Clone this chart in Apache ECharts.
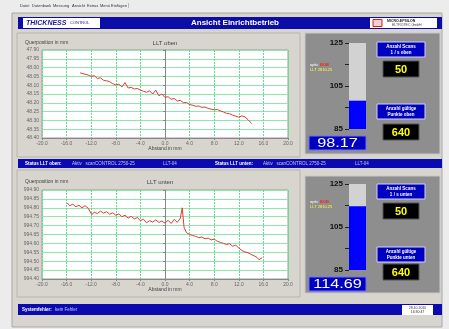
<!DOCTYPE html>
<html>
<head>
<meta charset="utf-8">
<script src="https://cdn.jsdelivr.net/npm/echarts@6/dist/echarts.min.js"></script>
<style>
  html, body { margin: 0; padding: 0; background: #ececec; }
  #main { width: 449px; height: 329px; }
</style>
</head>
<body>
<div id="main"></div>
<script>
// profile LLT oben (x in mm, thickness in mm)
const xTop = [-13.8, -13.5, -13.0, -12.5, -12.0, -11.5, -11.0, -10.5, -10.0, -9.5, -9.0, -8.5, -8.0, -7.5,
  -7.0, -6.5, -6.0, -5.5, -5.0, -4.5, -4.0, -3.5, -3.0, -2.5, -2.0, -1.5, -1.0, -0.5, 0.0, 0.5, 1.0, 1.5,
  2.0, 2.5, 3.0, 3.5, 4.0, 4.5, 5.0, 5.5, 6.0, 6.5, 7.0, 7.5, 8.0, 8.5, 9.0, 9.5, 10.0, 10.5, 11.0, 11.5,
  12.0, 12.5, 13.0, 13.5, 14.1];
const yTop = [48.030, 48.025, 48.038, 48.042, 48.050, 48.046, 48.062, 48.058, 48.072, 48.075, 48.080, 48.092,
  48.098, 48.094, 48.110, 48.085, 48.116, 48.112, 48.122, 48.118, 48.128, 48.135, 48.140, 48.132, 48.150,
  48.128, 48.160, 48.150, 48.170, 48.165, 48.180, 48.176, 48.190, 48.186, 48.200, 48.198, 48.210, 48.214,
  48.220, 48.218, 48.226, 48.224, 48.232, 48.236, 48.240, 48.238, 48.246, 48.252, 48.260, 48.262, 48.270,
  48.276, 48.282, 48.274, 48.280, 48.296, 48.318];

// profile LLT unten
const xBottom = [-15.9, -15.5, -15.0, -14.5, -14.0, -13.5, -13.0, -12.5, -12.2, -11.9, -11.5, -11.0, -10.5,
  -10.0, -9.5, -9.0, -8.5, -8.0, -7.5, -7.0, -6.5, -6.0, -5.5, -5.0, -4.5, -4.0, -3.5, -3.0, -2.5, -2.0,
  -1.5, -1.0, -0.5, 0.0, 0.5, 1.0, 1.5, 2.0, 2.5, 2.8, 3.1, 3.5, 4.0, 4.5, 5.0, 5.5, 6.0, 6.5, 7.0, 7.5,
  8.0, 8.5, 9.0, 9.5, 10.0, 10.5, 11.0, 11.5, 12.0, 12.5, 13.0, 13.5, 14.0, 14.5, 15.0, 15.3, 15.8];
const yBottom = [994.827, 994.812, 994.820, 994.806, 994.814, 994.800, 994.812, 994.798, 994.808, 994.762,
  994.775, 994.768, 994.782, 994.770, 994.778, 994.764, 994.772, 994.758, 994.766, 994.750, 994.758,
  994.742, 994.752, 994.738, 994.745, 994.728, 994.736, 994.716, 994.728, 994.720, 994.732, 994.718,
  994.726, 994.714, 994.730, 994.712, 994.735, 994.718, 994.742, 994.800, 994.690, 994.660, 994.650,
  994.644, 994.640, 994.632, 994.636, 994.626, 994.630, 994.620, 994.624, 994.612, 994.606, 994.600,
  994.594, 994.598, 994.584, 994.590, 994.574, 994.560, 994.552, 994.548, 994.538, 994.530, 994.520,
  994.508, 994.520];

const gaugeValues = [98.17, 114.69];
const scanRates = [50, 50];
const validPoints = [640, 640];
const gaugeLabels = [85, 105, 125];
const gaugeTicks = [85, 95, 105, 115, 125];

const FONT = "Liberation Sans";
const chart = echarts.init(document.getElementById("main"));

const rect = (x, y, w, h, fill, stroke, z) => ({
  type: "rect", z: z == null ? -5 : z,
  shape: { x, y, width: w, height: h },
  style: { fill, stroke: stroke || null, lineWidth: 1 },
});
const txt = (x, y, text, fill, size, opts) => ({
  type: "text", z: 10, x, y,
  scaleX: (opts && opts.sx) || 1,
  style: {
    text, fill,
    font: ((opts && opts.weight) || "normal") + " " + size + "px " + FONT,
    align: (opts && opts.align) || "left",
    verticalAlign: "middle",
  },
});

const graphics = [
  // window
  rect(12, 13, 430, 314, "#d8d5cf", "#a8a8a8", -10),
  // menu
  txt(20, 6, "Datei", "#333", 4), txt(32, 6, "Datenbank", "#333", 4), txt(53, 6, "Messung", "#333", 4),
  txt(72, 6, "Ansicht", "#333", 4), txt(87, 6, "Extras", "#333", 4), txt(100, 6, "Menü Einfügen", "#333", 4),
  txt(128, 6, "|", "#777", 5),
  // title bar
  rect(18, 17, 424, 12, "#0c0ca6"),
  rect(23, 18, 77, 10, "#ffffff", null, -4),
  txt(26, 23, "THICKNESS", "#1a1a8c", 7, { weight: "italic bold" }),
  txt(70, 23, "CONTROL", "#1a1a8c", 4),
  txt(235, 23, "Ansicht Einrichtbetrieb", "#ffffff", 8, { align: "center", weight: "bold" }),
  rect(370, 18, 67, 10, "#ffffff", null, -4),
  rect(373, 19.5, 9, 7, "#f2d0d0", "#d02020", -3),
  txt(387, 21, "MICRO-EPSILON", "#222", 3.5, { weight: "bold" }),
  txt(392, 25.5, "ELTROTEC GmbH", "#444", 3.5),
  // panels
  rect(17, 33, 283, 124, "#d8d5cf", "#b8b5b0"),
  rect(305, 33, 135, 121, "#8e8e8e", "#c8c8c8"),
  rect(17, 170, 283, 127, "#d8d5cf", "#b8b5b0"),
  rect(305, 176, 135, 117, "#8e8e8e", "#c8c8c8"),
  // status bar
  rect(18, 159, 424, 9, "#0a0ab0"),
  txt(25, 163.5, "Status LLT oben:", "#ffffff", 4.5, { weight: "bold" }),
  txt(72, 163.5, "Aktiv   scanCONTROL 2750-25", "#c8c8e8", 4.5),
  txt(163, 163.5, "LLT-04", "#c8c8e8", 4.5),
  txt(215, 163.5, "Status LLT unten:", "#ffffff", 4.5, { weight: "bold" }),
  txt(263, 163.5, "Aktiv   scanCONTROL 2750-25", "#c8c8e8", 4.5),
  txt(355, 163.5, "LLT-04", "#c8c8e8", 4.5),
  // bottom bar
  rect(18, 304, 424, 11, "#0a0ab0"),
  txt(22, 309.5, "Systemfehler:", "#ffffff", 4.5, { weight: "bold" }),
  txt(55, 309.5, "kein Fehler", "#c8c8e8", 4.5),
  rect(402, 305, 31, 10, "#ffffff", null, -4),
  txt(417.5, 308, "28.10.2010", "#333", 3.5, { align: "center" }),
  txt(417.5, 312, "16:30:47", "#333", 3.5, { align: "center" }),
  // chart captions
  txt(25, 43, "Querposition in mm", "#444", 5),
  txt(165, 43, "LLT oben", "#444", 6, { align: "center" }),
  txt(165, 149, "Abstand in mm", "#444", 5, { align: "center" }),
  txt(25, 182, "Querposition in mm", "#444", 5),
  txt(160, 182, "LLT unten", "#444", 6, { align: "center" }),
  txt(165, 290, "Abstand in mm", "#444", 5, { align: "center" }),
];

// gauge side panels
const sides = [
  { top: 33, box1: 42, blk1: 61, box2: 104, blk2: 124, val: 136, opt: 65, l1: "1 / s oben", l2: "Punkte oben" },
  { top: 176, box1: 184, blk1: 203, box2: 247, blk2: 264, val: 277, opt: 202, l1: "1 / s unten", l2: "Punkte unten" },
];
sides.forEach((s, i) => {
  graphics.push(
    rect(377, s.box1, 48, 15, "#0000c0", "#d0d0ff", -3),
    txt(401, s.box1 + 4.5, "Anzahl Scans", "#ffffff", 4.5, { align: "center", weight: "bold" }),
    txt(401, s.box1 + 10.5, s.l1, "#ffffff", 4.5, { align: "center", weight: "bold" }),
    rect(383, s.blk1, 36, 16, "#000000", "#555", -3),
    txt(401, s.blk1 + 8.5, String(scanRates[i]), "#ffff00", 11, { align: "center", weight: "bold" }),
    rect(377, s.box2, 48, 15, "#0000c0", "#d0d0ff", -3),
    txt(401, s.box2 + 4.5, "Anzahl gültige", "#ffffff", 4.5, { align: "center", weight: "bold" }),
    txt(401, s.box2 + 10.5, s.l2, "#ffffff", 4.5, { align: "center", weight: "bold" }),
    rect(383, s.blk2, 36, 16, "#000000", "#555", -3),
    txt(401, s.blk2 + 8.5, String(validPoints[i]), "#ffff00", 11, { align: "center", weight: "bold" }),
    rect(309, s.val, 57, 14, "#0000c0", "#7070ff", -3),
    txt(337.5, s.val + 7.5, gaugeValues[i].toFixed(2), "#ffffff", 12, { align: "center", sx: 1.35 }),
    txt(310, s.opt, "optic", "#ffffff", 4), txt(320, s.opt, "BOB", "#ff2020", 4, { weight: "bold" }),
    txt(310, s.opt + 5, "LLT 2810.25", "#ffff40", 4)
  );
});

const gridLine = { show: true, lineStyle: { color: "#62dc8e", width: 1, type: [2, 1] } };
const profileX = (i) => ({
  type: "value", gridIndex: i, min: -20, max: 20, interval: 4,
  axisLine: { lineStyle: { color: "#888" } },
  axisTick: { show: true, length: 2, lineStyle: { color: "#888" } },
  axisLabel: { fontSize: 5, color: "#666", margin: 3, formatter: (v) => v.toFixed(1) },
  splitLine: gridLine,
});
const profileY = (i, min, max, inverse) => ({
  type: "value", gridIndex: i, min, max, interval: 0.05, inverse,
  axisLine: { show: true, lineStyle: { color: "#888" } },
  axisTick: { show: true, length: 2, lineStyle: { color: "#888" } },
  axisLabel: { fontSize: 5, color: "#666", margin: 3, formatter: (v) => v.toFixed(2) },
  splitLine: { show: true, lineStyle: { color: "#8ee8ac", width: 1 } },
});
const gaugeX = (i) => ({ type: "category", gridIndex: i, data: ["v"], show: false });
const gaugeY = (i) => ({
  type: "value", gridIndex: i, min: 85, max: 125,
  axisLine: { show: false },
  axisTick: { show: true, length: 4, customValues: gaugeTicks, lineStyle: { color: "#222" } },
  axisLabel: { fontSize: 8, fontWeight: "bold", color: "#111", margin: 6, customValues: gaugeLabels },
  splitLine: { show: false },
});

chart.setOption({
  animation: false,
  textStyle: { fontFamily: FONT },
  graphic: graphics,
  grid: [
    { left: 42, top: 50, width: 246, height: 88, show: true, backgroundColor: "#ffffff", borderColor: "#9a9a9a", borderWidth: 1 },
    { left: 42, top: 190, width: 246, height: 89, show: true, backgroundColor: "#ffffff", borderColor: "#9a9a9a", borderWidth: 1 },
    { left: 349, top: 43, width: 17, height: 86 },
    { left: 349, top: 184, width: 17, height: 86 },
  ],
  xAxis: [profileX(0), profileX(1), gaugeX(2), gaugeX(3)],
  yAxis: [profileY(0, 47.9, 48.4, true), profileY(1, 994.4, 994.9, false), gaugeY(2), gaugeY(3)],
  series: [
    {
      type: "line", xAxisIndex: 0, yAxisIndex: 0, showSymbol: false,
      lineStyle: { color: "#e23a3a", width: 1 },
      data: xTop.map((x, i) => [x, yTop[i]]),
    },
    {
      type: "line", xAxisIndex: 1, yAxisIndex: 1, showSymbol: false,
      lineStyle: { color: "#e23a3a", width: 1 },
      data: xBottom.map((x, i) => [x, yBottom[i]]),
    },
    {
      type: "bar", xAxisIndex: 2, yAxisIndex: 2, barWidth: "100%", clip: true,
      showBackground: true, backgroundStyle: { color: "#d2d2d2" },
      itemStyle: { color: "#0000ff" },
      data: [gaugeValues[0]],
    },
    {
      type: "bar", xAxisIndex: 3, yAxisIndex: 3, barWidth: "100%", clip: true,
      showBackground: true, backgroundStyle: { color: "#d2d2d2" },
      itemStyle: { color: "#0000ff" },
      data: [gaugeValues[1]],
    },
  ],
});
</script>
</body>
</html>
